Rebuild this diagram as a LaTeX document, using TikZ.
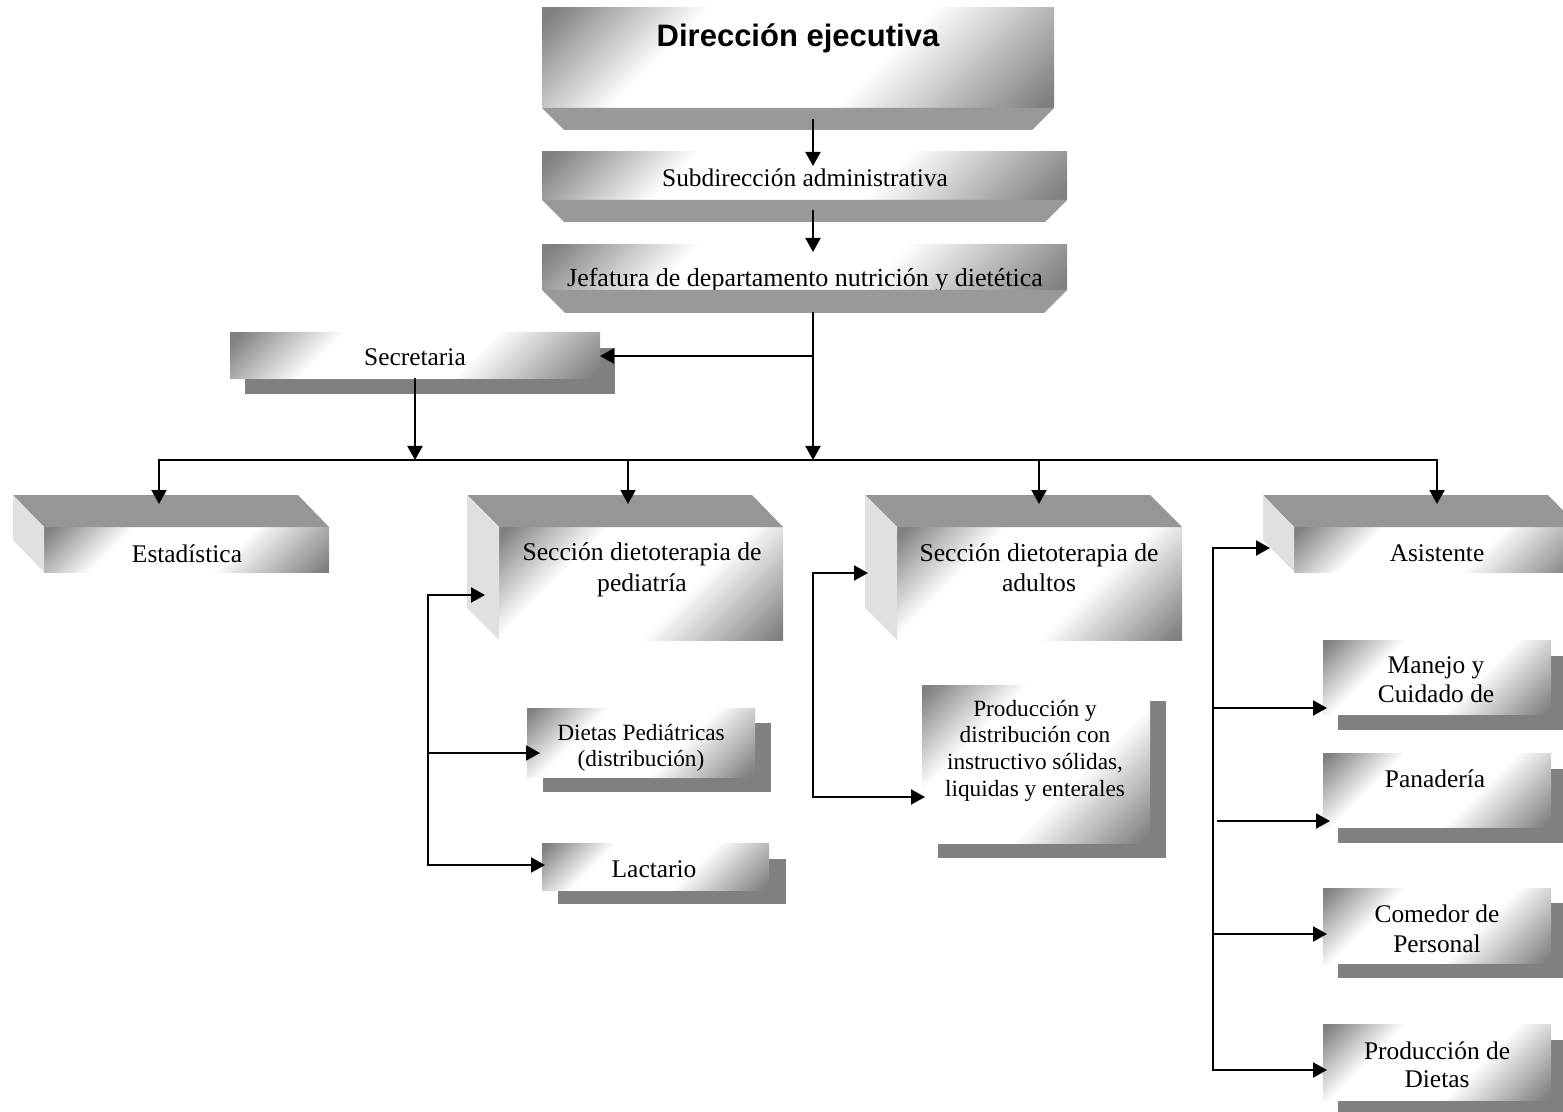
\documentclass[tikz,border=0pt]{standalone}
\usepackage{fontspec}
\setmainfont{Liberation Serif}
\newfontfamily\headfont{Liberation Sans}
\usetikzlibrary{arrows.meta,calc}
\definecolor{topgray}{gray}{0.59}
\definecolor{sidegray}{gray}{0.88}
\definecolor{shadowgray}{gray}{0.5}
\definecolor{basegray}{gray}{0.6}
\definecolor{edgegray}{gray}{0.5}
\pgfdeclareverticalshading{diagface}{100bp}{color(0bp)=(edgegray); color(16bp)=(edgegray); color(40bp)=(white); color(66bp)=(white); color(84bp)=(edgegray); color(100bp)=(edgegray)}
\newcommand{\mylines}[1]{\begin{tabular}[t]{@{}c@{}}#1\end{tabular}}
\begin{document}
\begin{tikzpicture}[x=0.5pt,y=-0.5pt,
 face/.style={rectangle, shade, shading=diagface, shading angle=45, inner sep=0pt, outer sep=0pt, draw=none},
 shadowbox/.style={fill=shadowgray, draw=none},
 topface/.style={fill=topgray, draw=none},
 sideface/.style={fill=sidegray, draw=none},
 basefaces/.style={fill=basegray, draw=none},
 txt/.style={font=\fontsize{12.7}{15}\selectfont, inner sep=0pt, anchor=base},
 smalltxt/.style={txt, font=\fontsize{11.64}{13.4}\selectfont},
 arr/.style={line width=1pt, line cap=rect, -{Triangle[length=7pt,width=7.5pt]}},
 conn/.style={line width=1pt, line cap=rect}]
\useasboundingbox (0,0) rectangle (1563,1112);
\clip (0,0) rectangle (1563,1112);

% ---------- top chain ----------
\node[face, minimum width=256pt, minimum height=50pt] (dir) at (798,58) {};
\fill[basefaces] (dir.south west) -- ++(22,22) -- ([shift={(-22,22)}]dir.south east) -- (dir.south east) -- cycle;
\node[txt, font=\headfont\bfseries\fontsize{15.5}{18}\selectfont] (dir-t) at (798,47) {Dirección ejecutiva};

\node[face, minimum width=262.5pt, minimum height=24pt] (sub) at (804.5,176) {};
\fill[basefaces] (sub.south west) -- ++(22,22) -- ([shift={(-22,22)}]sub.south east) -- (sub.south east) -- cycle;
\node[txt] (sub-t) at (805,187) {Subdirección administrativa};

\node[face, minimum width=262.5pt, minimum height=22.5pt] (jef) at (804.5,267.5) {};
\begin{scope}
\clip (jef.north west) rectangle (jef.south east);
\node[txt, font=\fontsize{13}{15}\selectfont] (jef-t) at (805,287) {Jefatura de departamento nutrición y dietética};
\end{scope}
\fill[basefaces] (jef.south west) -- ++(23,23) -- ([shift={(-23,23)}]jef.south east) -- (jef.south east) -- cycle;

% ---------- secretaria ----------
\fill[shadowbox] (245,348) rectangle (615,394);
\node[face, minimum width=185pt, minimum height=23pt] (sec) at (415,356) {};
\node[txt] (sec-t) at (415,366) {Secretaria};

% ---------- cubes ----------
\node[face, minimum width=142.5pt, minimum height=22.5pt] (est) at (186.5,549.5) {};
\fill[topface] ([shift={(-31,-32)}]est.north west) -- ([shift={(-31,-32)}]est.north east) -- (est.north east) -- (est.north west) -- cycle;
\fill[sideface] ([shift={(-31,-32)}]est.north west) -- (est.north west) -- (est.south west) -- ([shift={(-31,-32)}]est.south west) -- cycle;
\node[txt] (est-t) at (187,562) {Estadística};

\node[face, minimum width=142pt, minimum height=56.5pt] (ped) at (641,583.5) {};
\fill[topface] ([shift={(-32,-32)}]ped.north west) -- ([shift={(-31,-32)}]ped.north east) -- (ped.north east) -- (ped.north west) -- cycle;
\fill[sideface] ([shift={(-32,-32)}]ped.north west) -- (ped.north west) -- (ped.south west) -- ([shift={(-32,-32)}]ped.south west) -- cycle;
\node[txt, font=\fontsize{12.8}{15.5}\selectfont] (ped-t) at (642,560) {\mylines{Sección dietoterapia de\\pediatría}};

\node[face, minimum width=142.5pt, minimum height=56.5pt] (adu) at (1039.5,583.5) {};
\fill[topface] ([shift={(-32,-32)}]adu.north west) -- ([shift={(-32,-32)}]adu.north east) -- (adu.north east) -- (adu.north west) -- cycle;
\fill[sideface] ([shift={(-32,-32)}]adu.north west) -- (adu.north west) -- (adu.south west) -- ([shift={(-32,-32)}]adu.south west) -- cycle;
\node[txt, font=\fontsize{12.8}{15}\selectfont] (adu-t) at (1039,561) {\mylines{Sección dietoterapia de\\adultos}};

\node[face, minimum width=142.5pt, minimum height=22.5pt] (asi) at (1436.5,549.5) {};
\fill[topface] ([shift={(-31,-32)}]asi.north west) -- ([shift={(-31,-32)}]asi.north east) -- (asi.north east) -- (asi.north west) -- cycle;
\fill[sideface] ([shift={(-31,-32)}]asi.north west) -- (asi.north west) -- (asi.south west) -- ([shift={(-31,-32)}]asi.south west) -- cycle;
\node[txt] (asi-t) at (1437,561) {Asistente};

% ---------- shadowed boxes ----------
\fill[shadowbox] (543,723) rectangle (771,792);
\node[face, minimum width=114pt, minimum height=34.5pt] (dp) at (641,742.5) {};
\begin{scope}
\clip (dp.north west) rectangle (dp.south east);
\node[smalltxt] (dp-t) at (641,740) {\mylines{Dietas Pediátricas\\(distribución)}};
\end{scope}

\fill[shadowbox] (558,859) rectangle (786,904);
\node[face, minimum width=113.5pt, minimum height=23.5pt] (lac) at (655.5,866.5) {};
\node[txt] (lac-t) at (654,877) {Lactario};

\fill[shadowbox] (938,701) rectangle (1166,858);
\node[face, minimum width=114pt, minimum height=79pt] (pro) at (1036,764) {};
\node[smalltxt, font=\fontsize{11.64}{13.35}\selectfont] (pro-t) at (1035,716) {\mylines{Producción y\\distribución con\\instructivo sólidas,\\liquidas y enterales}};

\fill[shadowbox] (1338,656) rectangle (1566,730);
\node[face, minimum width=114pt, minimum height=37pt] (man) at (1437,677) {};
\node[txt, font=\fontsize{12.7}{14.5}\selectfont] (man-t) at (1436,673) {\mylines{Manejo y\\Cuidado de}};

\fill[shadowbox] (1338,769) rectangle (1566,843);
\node[face, minimum width=114pt, minimum height=37pt] (pan) at (1437,790) {};
\node[txt] (pan-t) at (1435,787) {Panadería};

\fill[shadowbox] (1338,903) rectangle (1566,978);
\node[face, minimum width=114pt, minimum height=37.5pt] (com) at (1437,925.5) {};
\node[txt, font=\fontsize{12.7}{15}\selectfont] (com-t) at (1437,922) {\mylines{Comedor de\\Personal}};

\fill[shadowbox] (1338,1040) rectangle (1566,1116);
\node[face, minimum width=114pt, minimum height=38pt] (pdd) at (1437,1062) {};
\node[txt, font=\fontsize{12.7}{14}\selectfont] (pdd-t) at (1437,1059) {\mylines{Producción de\\Dietas}};

% ---------- connectors ----------
\coordinate (spine) at (813,0);
\coordinate (bus) at (0,460);
\draw[arr] ($(dir.south -| spine)+(0,12)$) -- ($(sub.north -| spine)+(0,14)$);
\draw[arr] ($(sub.south -| spine)+(0,11)$) -- ($(jef.north -| spine)+(0,7)$);
\draw[arr] ($(jef.south -| spine)+(0,23)$) -- (bus -| spine);
\draw[arr] (sec.east -| spine) -- (sec.east);
\draw[arr] (sec.south) -- (sec.south |- bus);

\coordinate (estin) at (159,504);
\coordinate (pedin) at (628,504);
\coordinate (aduin) at (1039,504);
\coordinate (asiin) at (1437,504);
\draw[conn] (estin |- bus) -- (asiin |- bus);
\foreach \c in {estin,pedin,aduin,asiin} \draw[arr] (\c |- bus) -- (\c);

\coordinate (pedl) at (485,595);
\coordinate (pedj) at (428,0);
\coordinate (dpin) at (540,753);
\coordinate (lacin) at (545,865);
\draw[arr] (pedj |- lacin) -- (pedj |- pedl) -- (pedl);
\draw[arr] (pedj |- dpin) -- (dpin);
\draw[arr] (pedj |- lacin) -- (lacin);

\coordinate (adul) at (868,573);
\coordinate (proin) at (925,797);
\draw[arr] (spine |- proin) -- (spine |- adul) -- (adul);
\draw[arr] (spine |- proin) -- (proin);

\coordinate (asij) at (1213,0);
\coordinate (asil) at (1270,548);
\coordinate (manin) at (1327,708);
\coordinate (panin) at (1330,821);
\coordinate (comin) at (1327,934);
\coordinate (pddin) at (1327,1070);
\draw[arr] (asij |- pddin) -- (asij |- asil) -- (asil);
\draw[arr] (asij |- manin) -- (manin);
\draw[arr] ($(asij |- panin)+(5,0)$) -- (panin);
\draw[arr] (asij |- comin) -- (comin);
\draw[arr] (asij |- pddin) -- (pddin);
\end{tikzpicture}
\end{document}
